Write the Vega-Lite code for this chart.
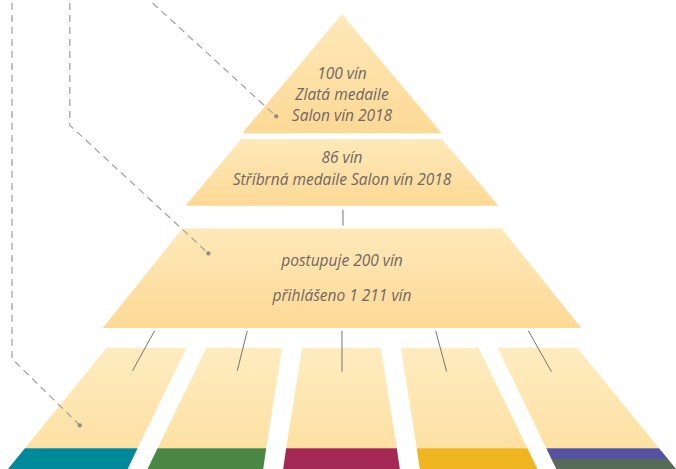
{
  "$schema": "https://vega.github.io/schema/vega-lite/v6.json",
  "width": 676,
  "height": 469,
  "autosize": {"type": "fit", "contains": "padding"},
  "padding": 0,
  "background": "white",
  "config": {"view": {"stroke": null}},
  "datasets": {
    "beige": [
      {"id": "t1", "y": 11, "xl": 343, "xr": 343},
      {"id": "t1", "y": 131, "xl": 243, "xr": 443},
      {"id": "t2", "y": 137, "xl": 242, "xr": 443},
      {"id": "t2", "y": 204, "xl": 186, "xr": 500},
      {"id": "t3", "y": 227, "xl": 183, "xr": 503},
      {"id": "t3", "y": 327, "xl": 103, "xr": 583}
    ],
    "cols": [
      {"id": "c1", "y": 347, "xl": 107, "xr": 187},
      {"id": "c1", "y": 448, "xl": 25, "xr": 138},
      {"id": "c2", "y": 347, "xl": 207, "xr": 283},
      {"id": "c2", "y": 448, "xl": 158, "xr": 267},
      {"id": "c3", "y": 347, "xl": 303, "xr": 382},
      {"id": "c3", "y": 448, "xl": 287, "xr": 398},
      {"id": "c4", "y": 347, "xl": 402, "xr": 480},
      {"id": "c4", "y": 448, "xl": 418, "xr": 529},
      {"id": "c5", "y": 347, "xl": 499, "xr": 579},
      {"id": "c5", "y": 448, "xl": 548, "xr": 661}
    ],
    "bands": [
      {"id": "teal", "y": 448, "xl": 25, "xr": 138},
      {"id": "teal", "y": 469, "xl": 8, "xr": 128},
      {"id": "green", "y": 448, "xl": 158, "xr": 267},
      {"id": "green", "y": 469, "xl": 148, "xr": 264},
      {"id": "magenta", "y": 448, "xl": 287, "xr": 398},
      {"id": "magenta", "y": 469, "xl": 284, "xr": 401},
      {"id": "yellow", "y": 448, "xl": 418, "xr": 529},
      {"id": "yellow", "y": 469, "xl": 421, "xr": 539},
      {"id": "purple", "y": 448, "xl": 548, "xr": 661},
      {"id": "purple", "y": 459, "xl": 553, "xr": 670},
      {"id": "darkgreen", "y": 459, "xl": 553, "xr": 670},
      {"id": "darkgreen", "y": 469, "xl": 558, "xr": 678}
    ],
    "rules": [
      {"x1": 344, "y1": 208, "x2": 344, "y2": 224},
      {"x1": 155, "y1": 330, "x2": 133, "y2": 370},
      {"x1": 248, "y1": 330, "x2": 238, "y2": 370},
      {"x1": 343, "y1": 330, "x2": 343, "y2": 371},
      {"x1": 437, "y1": 330, "x2": 448, "y2": 371},
      {"x1": 530, "y1": 330, "x2": 553, "y2": 371}
    ],
    "dashes": [
      {"id": "a", "o": 1, "x": 12, "y": 0},
      {"id": "a", "o": 2, "x": 12, "y": 358},
      {"id": "a", "o": 3, "x": 80, "y": 425},
      {"id": "b", "o": 1, "x": 70, "y": 0},
      {"id": "b", "o": 2, "x": 70, "y": 123},
      {"id": "b", "o": 3, "x": 209, "y": 252},
      {"id": "c", "o": 1, "x": 153, "y": 0},
      {"id": "c", "o": 2, "x": 277, "y": 114}
    ],
    "dots": [
      {"x": 80, "y": 425},
      {"x": 209, "y": 252},
      {"x": 277, "y": 114}
    ],
    "labels": [
      {"x": 343, "y": 76, "t": "100 vín"},
      {"x": 343, "y": 97.5, "t": "Zlatá medaile"},
      {"x": 343, "y": 118.5, "t": "Salon vín 2018"},
      {"x": 343, "y": 161.5, "t": "86 vín"},
      {"x": 343, "y": 183, "t": "Stříbrná medaile Salon vín 2018"},
      {"x": 343, "y": 265, "t": "postupuje 200 vín"},
      {"x": 343, "y": 300, "t": "přihlášeno 1 211 vín"}
    ]
  },
  "layer": [
    {
      "data": {"name": "beige"},
      "mark": {
        "type": "area",
        "orient": "horizontal",
        "color": {
          "gradient": "linear", "x1": 0, "y1": 0, "x2": 0, "y2": 1,
          "stops": [
            {"offset": 0, "color": "#fee9b9"},
            {"offset": 1, "color": "#fdd995"}
          ]
        }
      },
      "encoding": {
        "y": {"field": "y", "type": "quantitative", "scale": {"domain": [0, 469], "reverse": true, "nice": false, "zero": false}, "axis": null},
        "x": {"field": "xl", "type": "quantitative", "scale": {"domain": [0, 676], "nice": false, "zero": false}, "axis": null},
        "x2": {"field": "xr"},
        "detail": {"field": "id"}
      }
    },
    {
      "data": {"name": "cols"},
      "mark": {
        "type": "area",
        "orient": "horizontal",
        "color": {
          "gradient": "linear", "x1": 0, "y1": 0, "x2": 0, "y2": 1,
          "stops": [
            {"offset": 0, "color": "#feecc0"},
            {"offset": 1, "color": "#fde1a3"}
          ]
        }
      },
      "encoding": {
        "y": {"field": "y", "type": "quantitative", "scale": {"domain": [0, 469], "reverse": true, "nice": false, "zero": false}, "axis": null},
        "x": {"field": "xl", "type": "quantitative", "scale": {"domain": [0, 676], "nice": false, "zero": false}, "axis": null},
        "x2": {"field": "xr"},
        "detail": {"field": "id"}
      }
    },
    {
      "data": {"name": "bands"},
      "mark": {"type": "area", "orient": "horizontal"},
      "encoding": {
        "y": {"field": "y", "type": "quantitative", "scale": {"domain": [0, 469], "reverse": true, "nice": false, "zero": false}, "axis": null},
        "x": {"field": "xl", "type": "quantitative", "scale": {"domain": [0, 676], "nice": false, "zero": false}, "axis": null},
        "x2": {"field": "xr"},
        "color": {
          "field": "id", "type": "nominal", "legend": null,
          "scale": {
            "domain": ["teal", "green", "magenta", "yellow", "purple", "darkgreen"],
            "range": ["#00889b", "#4a8745", "#a42854", "#efb520", "#5552a1", "#566b56"]
          }
        }
      }
    },
    {
      "data": {"name": "rules"},
      "mark": {"type": "rule", "color": "#7d716d", "strokeWidth": 1},
      "encoding": {
        "x": {"field": "x1", "type": "quantitative", "scale": {"domain": [0, 676], "nice": false, "zero": false}, "axis": null},
        "y": {"field": "y1", "type": "quantitative", "scale": {"domain": [0, 469], "reverse": true, "nice": false, "zero": false}, "axis": null},
        "x2": {"field": "x2"},
        "y2": {"field": "y2"}
      }
    },
    {
      "data": {"name": "dashes"},
      "mark": {"type": "line", "color": "#aca3a0", "strokeWidth": 1.3, "strokeDash": [7, 5]},
      "encoding": {
        "x": {"field": "x", "type": "quantitative", "scale": {"domain": [0, 676], "nice": false, "zero": false}, "axis": null},
        "y": {"field": "y", "type": "quantitative", "scale": {"domain": [0, 469], "reverse": true, "nice": false, "zero": false}, "axis": null},
        "detail": {"field": "id"},
        "order": {"field": "o"}
      }
    },
    {
      "data": {"name": "dots"},
      "mark": {"type": "circle", "color": "#948985", "size": 18, "opacity": 1},
      "encoding": {
        "x": {"field": "x", "type": "quantitative", "scale": {"domain": [0, 676], "nice": false, "zero": false}, "axis": null},
        "y": {"field": "y", "type": "quantitative", "scale": {"domain": [0, 469], "reverse": true, "nice": false, "zero": false}, "axis": null}
      }
    },
    {
      "data": {"name": "labels"},
      "mark": {"type": "text", "font": "Open Sans", "fontStyle": "italic", "fontSize": 15.5, "color": "#716663", "align": "center", "baseline": "alphabetic"},
      "encoding": {
        "x": {"field": "x", "type": "quantitative", "scale": {"domain": [0, 676], "nice": false, "zero": false}, "axis": null},
        "y": {"field": "y", "type": "quantitative", "scale": {"domain": [0, 469], "reverse": true, "nice": false, "zero": false}, "axis": null},
        "text": {"field": "t"}
      }
    }
  ]
}
